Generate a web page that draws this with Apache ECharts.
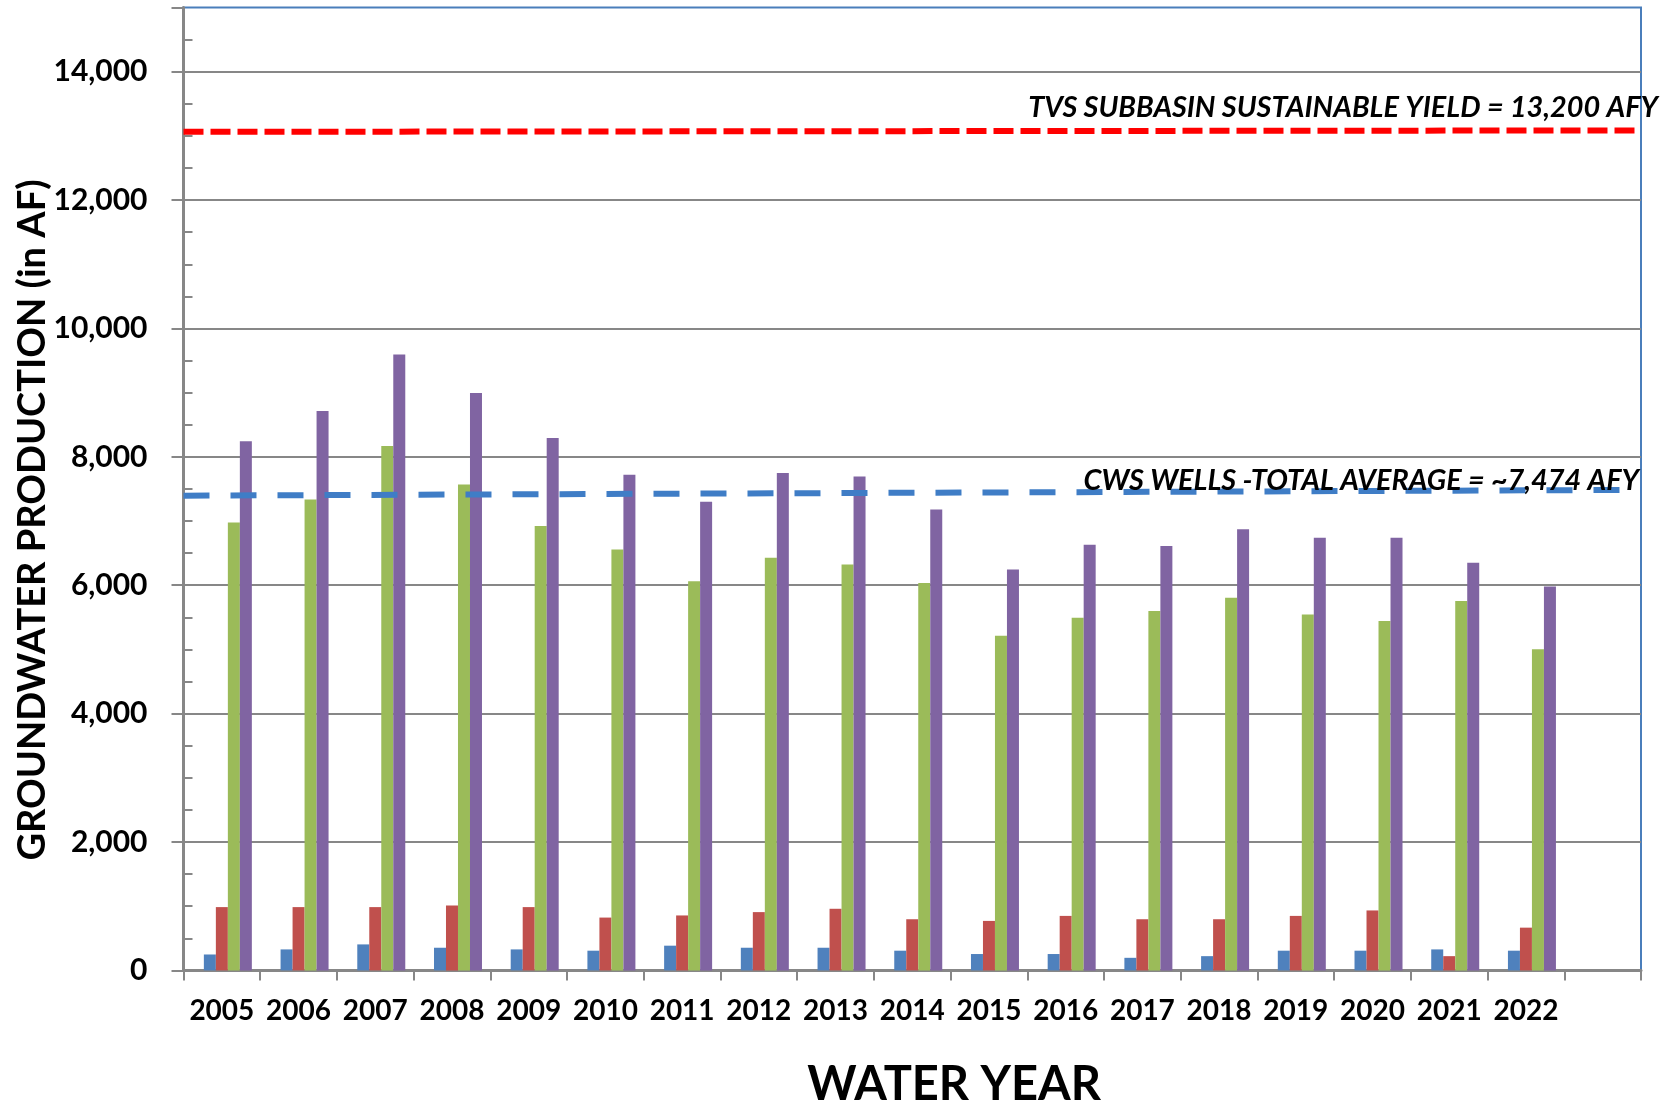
<!DOCTYPE html>
<html>
<head>
<meta charset="utf-8">
<script src="https://cdn.jsdelivr.net/npm/echarts@6/dist/echarts.min.js"></script>
<style>
html,body{margin:0;padding:0;background:#fff;}
#chart{width:1674px;height:1107px;}
</style>
</head>
<body>
<div id="chart"></div>
<script>
// ---- Data ----
const years = ['2005','2006','2007','2008','2009','2010','2011','2012','2013','2014','2015','2016','2017','2018','2019','2020','2021','2022',''];
const seriesBlue   = [248, 327, 405, 353, 327, 307, 385, 353, 353, 307, 255, 255, 196, 222, 307, 307, 327, 307];
const seriesRed    = [986, 986, 986, 1012, 986, 823, 856, 908, 960, 797, 771, 849, 797, 797, 849, 934, 222, 666];
const seriesGreen  = [6976, 7335, 8171, 7570, 6924, 6558, 6061, 6427, 6323, 6035, 5212, 5493, 5598, 5807, 5545, 5441, 5754, 5003];
const seriesPurple = [8243, 8713, 9595, 8994, 8295, 7721, 7302, 7747, 7694, 7178, 6244, 6630, 6610, 6871, 6741, 6741, 6349, 5979];
const sustainableYieldLine = [13063, 13085];   // drawn level at left / right edge
const cwsAverageLine       = [7396, 7485];     // drawn level at left / right edge
const sustainableYieldText = 'TVS SUBBASIN SUSTAINABLE YIELD = 13,200 AFY';
const cwsAverageText       = 'CWS WELLS -TOTAL AVERAGE = ~7,474 AFY';
const yAxisTitle = 'GROUNDWATER PRODUCTION (in AF)';
const xAxisTitle = 'WATER YEAR';

const FONT = 'Lato, "Open Sans", "Liberation Sans", sans-serif';
const GREY = '#878787';

function barSeries(name, data, color) {
  return {
    type: 'bar', name: name, data: data,
    xAxisIndex: 0, yAxisIndex: 0,
    barWidth: 12, barGap: '0%',
    itemStyle: { color: color },
    z: 2
  };
}
function refLine(name, levels, color, dash, text, offset, size) {
  return {
    type: 'line', name: name, xAxisIndex: 1, yAxisIndex: 0,
    data: [[0, levels[0]], [1, levels[1]]],
    symbol: 'circle', symbolSize: 0, showSymbol: true,
    lineStyle: { color: color, width: 6, type: dash },
    itemStyle: { color: color },
    z: 4,
    label: {
      show: true, position: 'top', distance: 5,
      align: 'right', verticalAlign: 'bottom', offset: offset,
      formatter: p => (p.dataIndex === 1 ? text : ''),
      fontFamily: FONT, fontStyle: 'italic', fontWeight: 'bold', fontSize: size, color: '#000'
    },
    emphasis: { disabled: true }
  };
}

const chart = echarts.init(document.getElementById('chart'), null, { renderer: 'canvas' });
chart.setOption({
  animation: false,
  backgroundColor: '#fff',
  grid: {
    left: 183.5, right: 33, top: 7.5, bottom: 136.6,
    show: true, borderColor: '#4A7EBB', borderWidth: 2, backgroundColor: 'transparent'
  },
  xAxis: [
    {
      type: 'category', data: years, boundaryGap: true,
      axisLine: { show: true, lineStyle: { color: GREY, width: 3 } },
      axisTick: { show: true, interval: 0, length: 10, lineStyle: { color: GREY, width: 2 } },
      axisLabel: { interval: 0, margin: 27, fontFamily: FONT, fontWeight: 'bold', fontSize: 28, color: '#000' },
      splitLine: { show: false }
    },
    { type: 'value', min: 0, max: 1, show: false }
  ],
  yAxis: {
    type: 'value', min: 0, max: 15000, interval: 2000,
    axisLine: { show: true, lineStyle: { color: GREY, width: 3 } },
    axisTick: { show: true, length: 12, lineStyle: { color: GREY, width: 2 } },
    minorTick: { show: true, splitNumber: 4, length: -9, lineStyle: { color: GREY, width: 2 } },
    splitLine: { show: true, showMaxLine: false, lineStyle: { color: GREY, width: 2 } },
    axisLabel: {
      showMaxLabel: false, margin: 36,
      formatter: v => v.toLocaleString('en-US'),
      fontFamily: FONT, fontWeight: 'bold', fontSize: 30, color: '#000'
    }
  },
  series: [
    { type: 'bar', name: 'unused slot', data: [], barWidth: 12, barGap: '0%', xAxisIndex: 0, yAxisIndex: 0 },
    barSeries('Blue', seriesBlue, '#4F81BD'),
    barSeries('Red', seriesRed, '#C0504D'),
    barSeries('Green', seriesGreen, '#9BBB59'),
    barSeries('Purple', seriesPurple, '#8064A2'),
    refLine('Sustainable yield', sustainableYieldLine, '#FF0000', [20, 7], sustainableYieldText, [17, -3], 28.8),
    refLine('CWS average', cwsAverageLine, '#3F7DC6', [26, 21], cwsAverageText, [-2, 10], 28.8)
  ],
  graphic: [
    {
      type: 'text', x: 33, y: 520, rotation: Math.PI / 2,
      style: { text: yAxisTitle, fontFamily: FONT, fontWeight: 'bold', fontSize: 38, fill: '#000', align: 'center', verticalAlign: 'middle' }
    },
    {
      type: 'text', x: 954, y: 1085,
      style: { text: xAxisTitle, fontFamily: FONT, fontWeight: 'bold', fontSize: 47, fill: '#000', align: 'center', verticalAlign: 'middle' }
    }
  ]
});
</script>
</body>
</html>
